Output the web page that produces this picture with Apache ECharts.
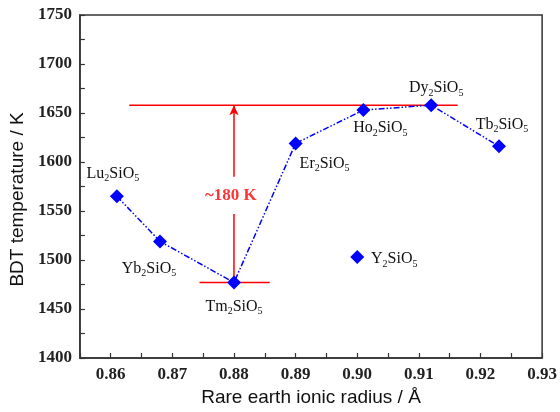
<!DOCTYPE html>
<html><head><meta charset="utf-8">
<script src="https://cdn.jsdelivr.net/npm/echarts@6/dist/echarts.min.js"></script>
<style>html,body{margin:0;padding:0;background:#fff}#c{width:560px;height:412px}</style>
</head><body><div id="c"></div>
<script>
// data
const compounds = ['Lu','Yb','Tm','Er','Ho','Dy','Tb'];
const radius = [0.861, 0.868, 0.880, 0.890, 0.901, 0.912, 0.923];
const bdt = [1565, 1519, 1477, 1619, 1653, 1658, 1616];
const yCompound = 'Y';
const yRadius = 0.900;
const yBdt = 1503;
const upperRefX = [0.863, 0.9163];
const upperRefY = 1658;
const lowerRefX = [0.8744, 0.8858];
const lowerRefY = 1477;
const arrowLower = [1477, 1547];
const arrowUpper = [1585, 1658];
const diffText = '~180 K';
const diffLabelX = 0.8795;
const diffLabelY = 1566;
// label offsets (style)
const labelOffsets = {Lu:[-4,-23], Yb:[-11,27], Tm:[0,24], Er:[29,20], Ho:[17,18], Dy:[5,-17], Tb:[3,-22], Y:[37,2]};

const serif = '"Liberation Serif","Times New Roman",serif';
const sans = '"Liberation Sans",Arial,sans-serif';
const rich = { n:{fontFamily:serif,fontSize:16,color:'#111'}, s:{fontFamily:serif,fontSize:10,color:'#111',padding:[10,0,0,0]} };
function fmt(el){ return '{n|'+el+'}{s|2}{n|SiO}{s|5}'; }

const lineData = radius.map((r,i)=>({value:[r,bdt[i]], label:{show:true, position:'inside', offset:labelOffsets[compounds[i]], formatter:fmt(compounds[i]), rich:rich}}));
const red = '#ff0000';

const chart = echarts.init(document.getElementById('c'), null, {renderer:'canvas'});
chart.setOption({
  animation:false,
  grid:{left:79, right:17, top:15, bottom:52, show:true, borderColor:'#333', borderWidth:1.5, backgroundColor:'transparent'},
  xAxis:{type:'value', min:0.855, max:0.93, interval:0.005,
    axisLine:{lineStyle:{color:'#333', width:1.5}},
    axisTick:{inside:true, length:5, lineStyle:{color:'#333', width:1.2}},
    splitLine:{show:false},
    axisLabel:{fontFamily:serif, fontSize:17, fontWeight:'bold', color:'#222', margin:8,
      formatter:v=>{const k=Math.round(v*1000); return (k%10===0)?(k/1000).toFixed(2):'';}},
    name:'Rare earth ionic radius / Å', nameLocation:'middle', nameGap:30,
    nameTextStyle:{fontFamily:sans, fontSize:19, color:'#111'}},
  yAxis:{type:'value', min:1400, max:1750, interval:25,
    axisLine:{show:true, lineStyle:{color:'#333', width:1.5}},
    axisTick:{show:true, inside:true, length:5, lineStyle:{color:'#333', width:1.2}},
    splitLine:{show:false},
    axisLabel:{fontFamily:serif, fontSize:17, fontWeight:'bold', color:'#222', margin:8,
      formatter:v=>(v%50===0)?String(v):''},
    name:'BDT temperature / K', nameLocation:'middle', nameGap:52,
    nameTextStyle:{fontFamily:sans, fontSize:19, color:'#111', padding:[0,26,0,0]}},
  series:[
    {type:'line', data:upperRefX.map(x=>[x,upperRefY]), symbol:'none', lineStyle:{color:red, width:1.5}, z:1},
    {type:'line', data:lowerRefX.map(x=>[x,lowerRefY]), symbol:'none', lineStyle:{color:red, width:1.5}, z:1},
    {type:'line', data:arrowLower.map(v=>[radius[2],v]), symbol:'none', lineStyle:{color:red, width:1.5}, z:1},
    {type:'line', data:[], symbol:'none', z:1,
     markLine:{silent:true, symbol:['none','arrow'], symbolSize:[7,10], lineStyle:{color:red, width:1.5, type:'solid'}, label:{show:false},
       data:[[{coord:[radius[2],arrowUpper[0]]},{coord:[radius[2],arrowUpper[1]]}]]}},
    {type:'scatter', data:[[diffLabelX, diffLabelY]], symbolSize:0, label:{show:true, position:'inside', formatter:diffText, fontFamily:serif, fontSize:17, fontWeight:'bold', color:red}, z:3},
    {type:'line', data:lineData, symbol:'diamond', symbolSize:14, itemStyle:{color:'#0000ff'},
      lineStyle:{color:'#0000ff', width:1.5, type:[6,2,1.5,2,1.5,2]}, z:5},
    {type:'scatter', data:[{value:[yRadius,yBdt], label:{show:true, position:'inside', offset:labelOffsets.Y, formatter:fmt(yCompound), rich:rich}}], symbol:'diamond', symbolSize:14, itemStyle:{color:'#0000ff', opacity:1}, z:5}
  ]
});
</script></body></html>
